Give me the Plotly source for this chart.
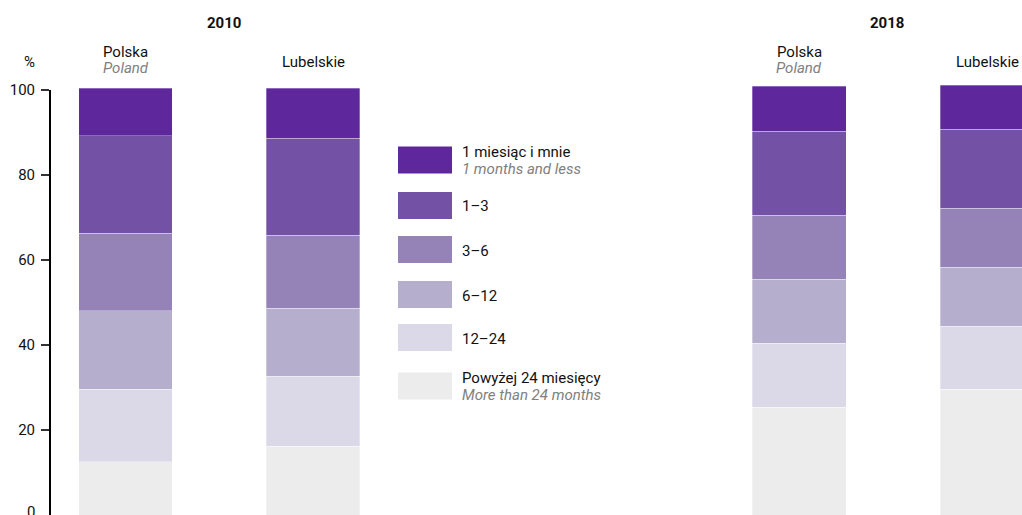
import plotly.graph_objects as go

# ---------------- data ----------------
categories = ["Polska", "Lubelskie"]
categories_en = ["Poland", ""]
years = ["2010", "2018"]

series_pl = ["Powyżej 24 miesięcy", "12–24", "6–12", "3–6", "1–3", "1 miesiąc i mnie"]
series_en = ["More than 24 months", "", "", "", "", "1 months and less"]
colors = ["#ececec", "#dbd8e7", "#b5afcd", "#9583b7", "#7352a5", "#5e289c"]

# values [Polska, Lubelskie], bottom segment first
over24_2010 = [12.5, 16.2]
m12_24_2010 = [17.1, 16.5]
m6_12_2010 = [18.5, 15.9]
m3_6_2010 = [18.2, 17.2]
m1_3_2010 = [22.9, 22.8]
m1_2010 = [11.2, 11.8]

over24_2018 = [25.3, 29.6]
m12_24_2018 = [15.1, 14.8]
m6_12_2018 = [15.1, 13.9]
m3_6_2018 = [15.0, 13.9]
m1_3_2018 = [19.8, 18.6]
m1_2018 = [10.6, 10.3]

y_ticks = [0, 20, 40, 60, 80, 100]

data_2010 = [over24_2010, m12_24_2010, m6_12_2010, m3_6_2010, m1_3_2010, m1_2010]
data_2018 = [over24_2018, m12_24_2018, m6_12_2018, m3_6_2018, m1_3_2018, m1_2018]

FONT = "Roboto, DejaVu Sans Condensed, sans-serif"
FS = 15
W, H = 1022, 515
ML = 50
PW = W - ML

def py(p):  # pixel y -> paper
    return (H - p) / H

def px(p):  # pixel x -> paper
    return (p - ML) / PW

fig = go.Figure()
for vals, name, col in zip(data_2010, series_pl, colors):
    fig.add_trace(go.Bar(x=categories, y=vals, name=name, marker_color=col,
                         marker_line_width=0.5, marker_line_color="rgba(255,255,255,0.6)",
                         width=0.5, xaxis="x", yaxis="y", showlegend=False))
for vals, name, col in zip(data_2018, series_pl, colors):
    fig.add_trace(go.Bar(x=categories, y=vals, name=name, marker_color=col,
                         marker_line_width=0.5, marker_line_color="rgba(255,255,255,0.6)",
                         width=0.5, xaxis="x2", yaxis="y", showlegend=False))

annotations = []
# year titles
annotations.append(dict(text="<b>" + years[0] + "</b>", xref="x", yref="paper", x=0.525, y=py(23),
                        showarrow=False, font=dict(size=FS, color="#111"), xanchor="center", yanchor="middle"))
annotations.append(dict(text="<b>" + years[1] + "</b>", xref="x2", yref="paper", x=0.466, y=py(23),
                        showarrow=False, font=dict(size=FS, color="#111"), xanchor="center", yanchor="middle"))
# category labels
for xr in ["x", "x2"]:
    for c, ce in zip(categories, categories_en):
        if ce:
            annotations.append(dict(text=c, xref=xr, yref="paper", x=c, y=py(52), showarrow=False,
                                    font=dict(size=FS, color="#111"), xanchor="center", yanchor="middle"))
            annotations.append(dict(text="<i>" + ce + "</i>", xref=xr, yref="paper", x=c, y=py(68),
                                    showarrow=False, font=dict(size=FS, color="#808080"),
                                    xanchor="center", yanchor="middle"))
        else:
            annotations.append(dict(text=c, xref=xr, yref="paper", x=c, y=py(62), showarrow=False,
                                    font=dict(size=FS, color="#111"), xanchor="center", yanchor="middle"))
# percent sign
annotations.append(dict(text="%", xref="paper", yref="paper", x=px(29), y=py(62), showarrow=False,
                        font=dict(size=FS, color="#111"), xanchor="center", yanchor="middle"))
# the bottom "0" label sits at the very edge of the figure; drawn as text so it stays visible
annotations.append(dict(text=str(y_ticks[0]), xref="paper", yref="paper", x=px(37), y=py(512),
                        showarrow=False, font=dict(size=FS, color="#111"),
                        xanchor="right", yanchor="middle"))

# custom legend (top item first)
shapes = []
box_centers = [160, 205.5, 249.5, 294.5, 337.5, 386]
leg_items = list(zip(series_pl, series_en, colors))[::-1]
for (pl, en, col), cy in zip(leg_items, box_centers):
    shapes.append(dict(type="rect", xref="paper", yref="paper", x0=px(398), x1=px(452),
                       y0=py(cy + 13.5), y1=py(cy - 13.5), fillcolor=col, line=dict(width=0)))
    if en:
        annotations.append(dict(text=pl, xref="paper", yref="paper", x=px(460), y=py(cy - 8),
                                showarrow=False, font=dict(size=FS, color="#111"),
                                xanchor="left", yanchor="middle"))
        annotations.append(dict(text="<i>" + en + "</i>", xref="paper", yref="paper", x=px(460),
                                y=py(cy + 8.5), showarrow=False, font=dict(size=FS, color="#808080"),
                                xanchor="left", yanchor="middle"))
    else:
        annotations.append(dict(text=pl, xref="paper", yref="paper", x=px(460), y=py(cy + 1),
                                showarrow=False, font=dict(size=FS, color="#111"),
                                xanchor="left", yanchor="middle"))

# y axis line (0..100)
shapes.append(dict(type="line", xref="paper", yref="y", x0=0, x1=0, y0=y_ticks[0], y1=y_ticks[-1],
                   line=dict(color="#000", width=2)))

fig.update_layout(
    width=W, height=H,
    margin=dict(l=ML, r=0, t=0, b=0),
    paper_bgcolor="white", plot_bgcolor="white",
    barmode="stack",
    font=dict(family=FONT, size=FS, color="#111"),
    xaxis=dict(domain=[0, px(406.75)], range=[-0.4027, 1.5], type="category",
               categoryorder="array", categoryarray=categories,
               showticklabels=False, showgrid=False, zeroline=False, showline=False, ticks=""),
    xaxis2=dict(domain=[px(705), 1], range=[-0.5, 1.186], type="category", anchor="y",
                categoryorder="array", categoryarray=categories,
                showticklabels=False, showgrid=False, zeroline=False, showline=False, ticks=""),
    yaxis=dict(range=[0, H / 4.25], tickvals=y_ticks[1:], ticktext=[str(v) for v in y_ticks[1:]],
               ticks="outside", ticklen=8, tickwidth=1.5, tickcolor="#333",
               showgrid=False, zeroline=False, showline=False, ticklabelstandoff=3,
               tickfont=dict(size=FS, color="#111")),
    annotations=annotations,
    shapes=shapes,
)

fig.write_html("out.html", config={"displayModeBar": False},
               post_script="document.body.style.margin='0';document.body.style.overflow='hidden';")
